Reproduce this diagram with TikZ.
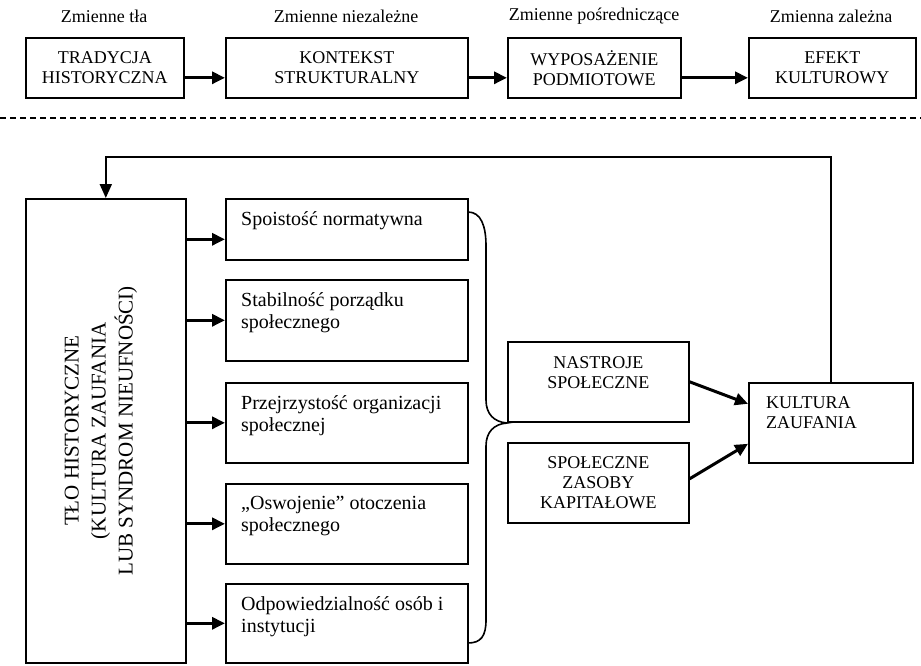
\documentclass[tikz,border=0pt]{standalone}
\usepackage{fontspec}
\setmainfont{Liberation Serif}
\usetikzlibrary{arrows.meta}
\begin{document}
\begin{tikzpicture}[x=1pt,y=-1pt,
  frame/.style={draw, line width=1.6pt, inner sep=0pt, anchor=north west},
  topbox/.style={frame, minimum height=60pt, align=center,
    font=\fontsize{18}{20}\selectfont},
  caption/.style={font=\fontsize{18}{20}\selectfont, inner sep=0pt},
  boxtext/.style={anchor=north west, inner sep=0pt, align=left,
    font=\fontsize{20}{22}\selectfont},
  captext/.style={inner sep=0pt, align=center, font=\fontsize{18}{20}\selectfont},
  arr/.style={line width=3pt, -{Triangle[length=13pt,width=12pt]}},
  thinarr/.style={line width=2pt, -{Triangle[length=14pt,width=12pt]}},
  sep/.style={line width=2pt, dash pattern=on 6pt off 4pt},
  bracket/.style={line width=1.6pt}
]
\useasboundingbox (0,0) rectangle (921,666);

% ---------- upper chain of variables ----------
\node[caption] (c1) at (104,16) {Zmienne tła};
\node[caption] (c2) at (346,16) {Zmienne niezależne};
\node[caption] (c3) at (594,16) {Zmienne pośredniczące};
\node[caption] (c4) at (831,16) {Zmienna zależna};

\node[topbox, minimum width=158pt] (trad) at (25,37) {TRADYCJA\\HISTORYCZNA};
\node[topbox, minimum width=242pt] (kont) at (225,37) {KONTEKST\\STRUKTURALNY};
\node[topbox, minimum width=173pt] (wyp) at (507,37) {WYPOSAŻENIE\\PODMIOTOWE};
\node[topbox, minimum width=167pt] (efk) at (748,37) {EFEKT\\KULTUROWY};

\draw[arr] ([yshift=-10pt]trad.east) -- ([yshift=-10pt]kont.west);
\draw[arr] ([yshift=-10pt]kont.east) -- ([yshift=-10pt]wyp.west);
\draw[arr] ([yshift=-10pt]wyp.east) -- ([yshift=-10pt]efk.west);

\draw[sep] (0,118) -- (921,118);

% ---------- lower model ----------
\node[frame, minimum width=160pt, minimum height=464pt] (big) at (25,198) {};
\node[inner sep=0pt, rotate=90, align=center,
  font=\fontsize{21}{27}\selectfont] (bigt) at ([xshift=-5pt]big.center)
  {TŁO HISTORYCZNE\\(KULTURA ZAUFANIA\\LUB SYNDROM NIEUFNOŚCI)};

\node[frame, minimum width=242pt, minimum height=61pt] (s1) at (225,198) {};
\node[frame, minimum width=242pt, minimum height=81pt] (s2) at (225,279) {};
\node[frame, minimum width=242pt, minimum height=80pt] (s3) at (225,382) {};
\node[frame, minimum width=242pt, minimum height=80pt] (s4) at (225,483) {};
\node[frame, minimum width=242pt, minimum height=79pt] (s5) at (225,583) {};

\node[boxtext] (s1t) at ([xshift=16pt,yshift=-13pt]s1.north west) {Spoistość normatywna};
\node[boxtext] (s2t) at ([xshift=16pt,yshift=-13pt]s2.north west) {Stabilność porządku\\społecznego};
\node[boxtext] (s3t) at ([xshift=16pt,yshift=-13pt]s3.north west) {Przejrzystość organizacji\\społecznej};
\node[boxtext] (s4t) at ([xshift=16pt,yshift=-13pt]s4.north west) {„Oswojenie” otoczenia\\społecznego};
\node[boxtext] (s5t) at ([xshift=16pt,yshift=-13pt]s5.north west) {Odpowiedzialność osób i\\instytucji};

\coordinate (s1w) at ([yshift=-10pt]s1.west);
\draw[arr] (big.east |- s1w) -- (s1w);
\draw[arr] (big.east |- s2.west) -- (s2.west);
\draw[arr] (big.east |- s3.west) -- (s3.west);
\draw[arr] (big.east |- s4.west) -- (s4.west);
\draw[arr] (big.east |- s5.west) -- (s5.west);

% curly bracket gathering the five factors
\draw[bracket] (468,212) .. controls (481,212) and (486,226) .. (486,246)
  -- (486,400) .. controls (486,414) and (494,422) .. (507,423)
  .. controls (494,424) and (486,432) .. (486,446)
  -- (486,620) .. controls (486,636) and (481,643) .. (468,643);

\node[frame, minimum width=181pt, minimum height=80pt] (nas) at (507,341) {};
\node[captext] (nast) at ([yshift=9pt]nas.center) {NASTROJE\\SPOŁECZNE};
\node[frame, minimum width=181pt, minimum height=80pt, align=center,
  font=\fontsize{18}{20}\selectfont] (zas) at (507,442)
  {SPOŁECZNE\\ZASOBY\\KAPITAŁOWE};

\node[frame, minimum width=164pt, minimum height=80pt] (kul) at (748,382) {};
\node[inner sep=0pt, anchor=west, align=left, font=\fontsize{18}{20}\selectfont]
  (kult) at ([xshift=18pt,yshift=10pt]kul.west) {KULTURA\\ZAUFANIA};

\draw[arr] (nas.east) -- ([yshift=19pt]kul.west);
\draw[arr] ([yshift=4pt]zas.east) -- ([yshift=-21pt]kul.west);

% feedback loop back to the historical background
\coordinate (loop) at (0,157);
\draw[thinarr] (kul.north) |- (big.north |- loop) -- (big.north);
\end{tikzpicture}
\end{document}
